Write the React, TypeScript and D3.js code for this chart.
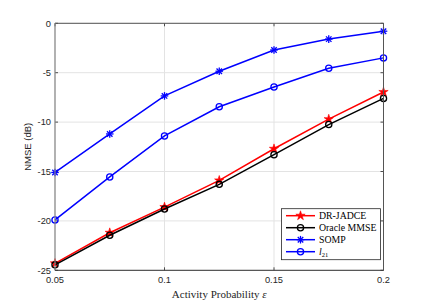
import * as d3 from 'd3'

const probs = [0.05, 0.075, 0.1, 0.125, 0.15, 0.175, 0.2]
const drJadce = [-24.3, -21.2, -18.6, -15.9, -12.7, -9.7, -6.95]
const oracle = [-24.45, -21.45, -18.8, -16.3, -13.3, -10.25, -7.6]
const somp = [-15.1, -11.2, -7.35, -4.85, -2.7, -1.6, -0.8]
const l21 = [-19.9, -15.55, -11.4, -8.45, -6.45, -4.55, -3.5]
const xTicks = [0.05, 0.1, 0.15, 0.2]
const xGrid = [0.05, 0.1, 0.15, 0.2]
const yTicks = [0, -5, -10, -15, -20, -25]

type Marker = 'star' | 'circle' | 'asterisk'
const series: { name: string; values: number[]; color: string; marker: Marker }[] = [
  { name: 'DR-JADCE', values: drJadce, color: '#ff0000', marker: 'star' },
  { name: 'Oracle MMSE', values: oracle, color: '#000000', marker: 'circle' },
  { name: 'SOMP', values: somp, color: '#0000ff', marker: 'asterisk' },
  { name: 'l21', values: l21, color: '#0000ff', marker: 'circle' },
]

const W = 424
const H = 304
const M = { left: 55, right: 40.5, top: 23.3, bottom: 33.7 }

const starPath = (() => {
  const pts: string[] = []
  const R = 4.9
  const r = R * 0.382
  for (let i = 0; i < 10; i++) {
    const a = -Math.PI / 2 + (i * Math.PI) / 5
    const rr = i % 2 === 0 ? R : r
    pts.push(`${(rr * Math.cos(a)).toFixed(2)},${(rr * Math.sin(a)).toFixed(2)}`)
  }
  return 'M' + pts.join('L') + 'Z'
})()

function MarkerGlyph({ kind, color, x, y }: { kind: Marker; color: string; x: number; y: number }) {
  if (kind === 'star') {
    return <path d={starPath} transform={`translate(${x},${y})`} fill={color} stroke={color} strokeWidth={0.6} />
  }
  if (kind === 'circle') {
    return <circle cx={x} cy={y} r={3.1} fill="none" stroke={color} strokeWidth={1.3} />
  }
  const s = 3.8
  const d = s * 0.72
  return (
    <g stroke={color} strokeWidth={1.3} transform={`translate(${x},${y})`}>
      <line x1={-s} y1={0} x2={s} y2={0} />
      <line x1={0} y1={-s} x2={0} y2={s} />
      <line x1={-d} y1={-d} x2={d} y2={d} />
      <line x1={-d} y1={d} x2={d} y2={-d} />
    </g>
  )
}

export default function App() {
  const x = d3.scaleLinear().domain([0.05, 0.2]).range([M.left, W - M.right])
  const y = d3.scaleLinear().domain([-25, 0]).range([H - M.bottom, M.top])
  const line = d3.line<number>().x((_, i) => x(probs[i])).y((d) => y(d))
  const x0 = x.range()[0]
  const x1 = x.range()[1]
  const y0 = y.range()[0]
  const y1 = y.range()[1]
  const sans = 'Liberation Sans, Arial, sans-serif'
  const serif = 'Liberation Serif, Times New Roman, serif'

  const lgX = 281.5
  const lgY = 208.7
  const lgW = 99
  const lgH = 51
  const rowH = 12

  return (
    <svg width={W} height={H} style={{ position: 'absolute', left: 0, top: 0, background: '#fff' }}>
      {/* grid */}
      <g stroke="#e3e3e3" strokeWidth={1}>
        {xGrid.map((t) => (
          <line key={'gx' + t} x1={x(t)} x2={x(t)} y1={y0} y2={y1} />
        ))}
        {yTicks.map((t) => (
          <line key={'gy' + t} x1={x0} x2={x1} y1={y(t)} y2={y(t)} />
        ))}
      </g>
      {/* ticks */}
      <g stroke="#262626" strokeWidth={0.8}>
        {xTicks.map((t) => (
          <g key={'tx' + t}>
            <line x1={x(t)} x2={x(t)} y1={y0} y2={y0 - 3} />
            <line x1={x(t)} x2={x(t)} y1={y1} y2={y1 + 3} />
          </g>
        ))}
        {yTicks.map((t) => (
          <g key={'ty' + t}>
            <line x1={x0} x2={x0 + 3} y1={y(t)} y2={y(t)} />
            <line x1={x1} x2={x1 - 3} y1={y(t)} y2={y(t)} />
          </g>
        ))}
      </g>
      {/* series */}
      {series.map((s) => (
        <g key={s.name}>
          <path d={line(s.values) ?? ''} fill="none" stroke={s.color} strokeWidth={1.5} />
          {s.values.map((v, i) => (
            <MarkerGlyph key={i} kind={s.marker} color={s.color} x={x(probs[i])} y={y(v)} />
          ))}
        </g>
      ))}
      {/* box */}
      <line x1={x0} x2={x1} y1={y1} y2={y1} stroke="#555" strokeWidth={1} />
      <line x1={x1} x2={x1} y1={y1} y2={y0} stroke="#555" strokeWidth={1} />
      <line x1={x0} x2={x1} y1={y0} y2={y0} stroke="#333" strokeWidth={1} />
      <line x1={x0} x2={x0} y1={y1} y2={y0} stroke="#888" strokeWidth={1.2} />
      {/* tick labels */}
      <g fontFamily={sans} fontSize={9.3} fill="#262626">
        {xTicks.map((t) => (
          <text key={'lx' + t} x={x(t)} y={y0 + 13} textAnchor="middle">
            {String(t)}
          </text>
        ))}
        {yTicks.map((t) => (
          <text key={'ly' + t} x={x0 - 4} y={y(t) + 3.2} textAnchor="end">
            {t === 0 ? '0' : String(t)}
          </text>
        ))}
      </g>
      <text
        transform={`translate(31,${(y0 + y1) / 2}) rotate(-90)`}
        textAnchor="middle"
        fontFamily={sans}
        fontSize={9.5}
        fill="#262626"
      >
        NMSE (dB)
      </text>
      <text x={(x0 + x1) / 2} y={298} textAnchor="middle" fontFamily={serif} fontSize={11} fill="#262626">
        Activity Probability <tspan fontStyle="italic">ε</tspan>
      </text>
      {/* legend */}
      <rect x={lgX} y={lgY} width={lgW} height={lgH} fill="#fff" stroke="#262626" strokeWidth={0.8} />
      {series.map((s, i) => {
        const cy = lgY + 7 + i * rowH
        return (
          <g key={'lg' + s.name}>
            <line x1={lgX + 4.5} x2={lgX + 33.5} y1={cy} y2={cy} stroke={s.color} strokeWidth={1.5} />
            <MarkerGlyph kind={s.marker} color={s.color} x={lgX + 19} y={cy} />
            <text x={lgX + 37.5} y={cy + 3.3} fontFamily={serif} fontSize={9.8} fill="#000">
              {s.name === 'l21' ? (
                <>
                  <tspan fontStyle="italic">l</tspan>
                  <tspan fontSize={6.5} dy={2}>21</tspan>
                </>
              ) : (
                s.name
              )}
            </text>
          </g>
        )
      })}
    </svg>
  )
}
